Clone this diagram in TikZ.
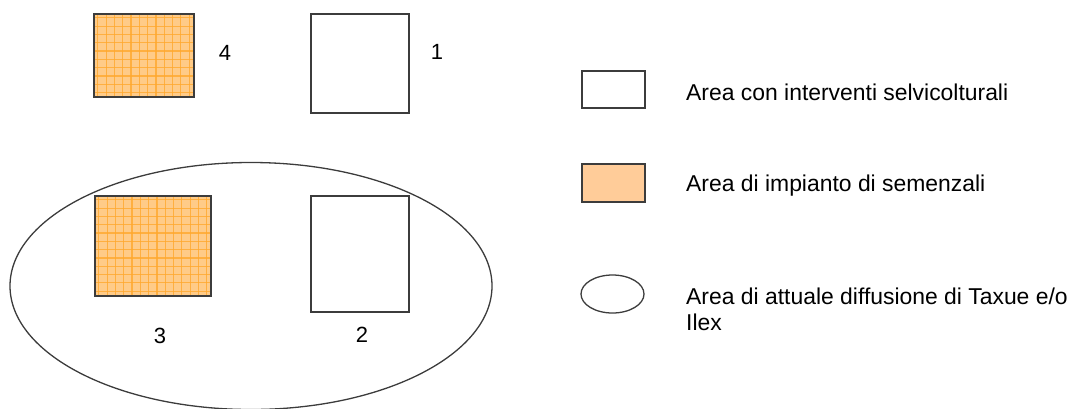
\documentclass[tikz,border=0pt]{standalone}
\usepackage{fontspec}
\setmainfont{Liberation Sans}
\usetikzlibrary{shapes.geometric}
\definecolor{orfill}{HTML}{FFCB88}
\definecolor{orline}{HTML}{FFA82E}
\definecolor{legor}{HTML}{FFCC99}
\definecolor{edge}{HTML}{3C3C3C}
\tikzset{
  box/.style={draw=edge, line width=1.6pt, rectangle, inner sep=0pt, anchor=north west, fill=white},
  gridbox/.style={box, fill=orfill, path picture={
     \foreach \k in {0,...,16}{
       \draw[orline, line width=1.2pt, opacity=0.8]
         ([xshift=4pt+\k*8.3pt]path picture bounding box.north west) --
         ([xshift=4pt+\k*8.3pt]path picture bounding box.south west);
       \draw[orline, line width=1.2pt, opacity=0.8]
         ([yshift=-4pt-\k*8.3pt]path picture bounding box.north west) --
         ([yshift=-4pt-\k*8.3pt]path picture bounding box.north east);
     }}},
  num/.style={font=\fontsize{22}{26}\selectfont, inner sep=0pt},
  legtext/.style={font=\fontsize{22.9}{26}\selectfont, inner sep=0pt, anchor=west, align=left},
  oval/.style={draw=edge, line width=1.3pt, ellipse, inner sep=0pt}
}
\begin{document}
\begin{tikzpicture}[x=1pt,y=-1pt]
\useasboundingbox (0,0) rectangle (1076,408);
% big ellipse
\node[oval, minimum width=482pt, minimum height=247pt] (area) at (251,286) {};
% boxes
\node[gridbox, minimum width=100pt, minimum height=83pt] (b4) at (93,13) {};
\node[box, minimum width=98pt, minimum height=99pt] (b1) at (310,13) {};
\node[gridbox, minimum width=116pt, minimum height=100pt] (b3) at (94,195) {};
\node[box, minimum width=98pt, minimum height=116pt] (b2) at (310,195) {};
% numbers
\node[num] (n4) at (225,53) {4};
\node[num] (n1) at (437,52) {1};
\node[num] (n3) at (160,336) {3};
\node[num] (n2) at (362,335) {2};
% legend
\node[box, minimum width=63pt, minimum height=37pt] (l1) at (581,70) {};
\node[box, fill=legor, minimum width=63pt, minimum height=38pt] (l2) at (581,163) {};
\node[oval, minimum width=63pt, minimum height=38pt] (l3) at (612.5,294) {};
\node[legtext] (t1) at (686,92) {Area con interventi selvicolturali};
\node[legtext] (t2) at (686,186) {Area di impianto di semenzali};
\node[legtext] (t3) at (686,309) {Area di attuale diffusione di Taxue e/o\\Ilex};
\end{tikzpicture}
\end{document}
